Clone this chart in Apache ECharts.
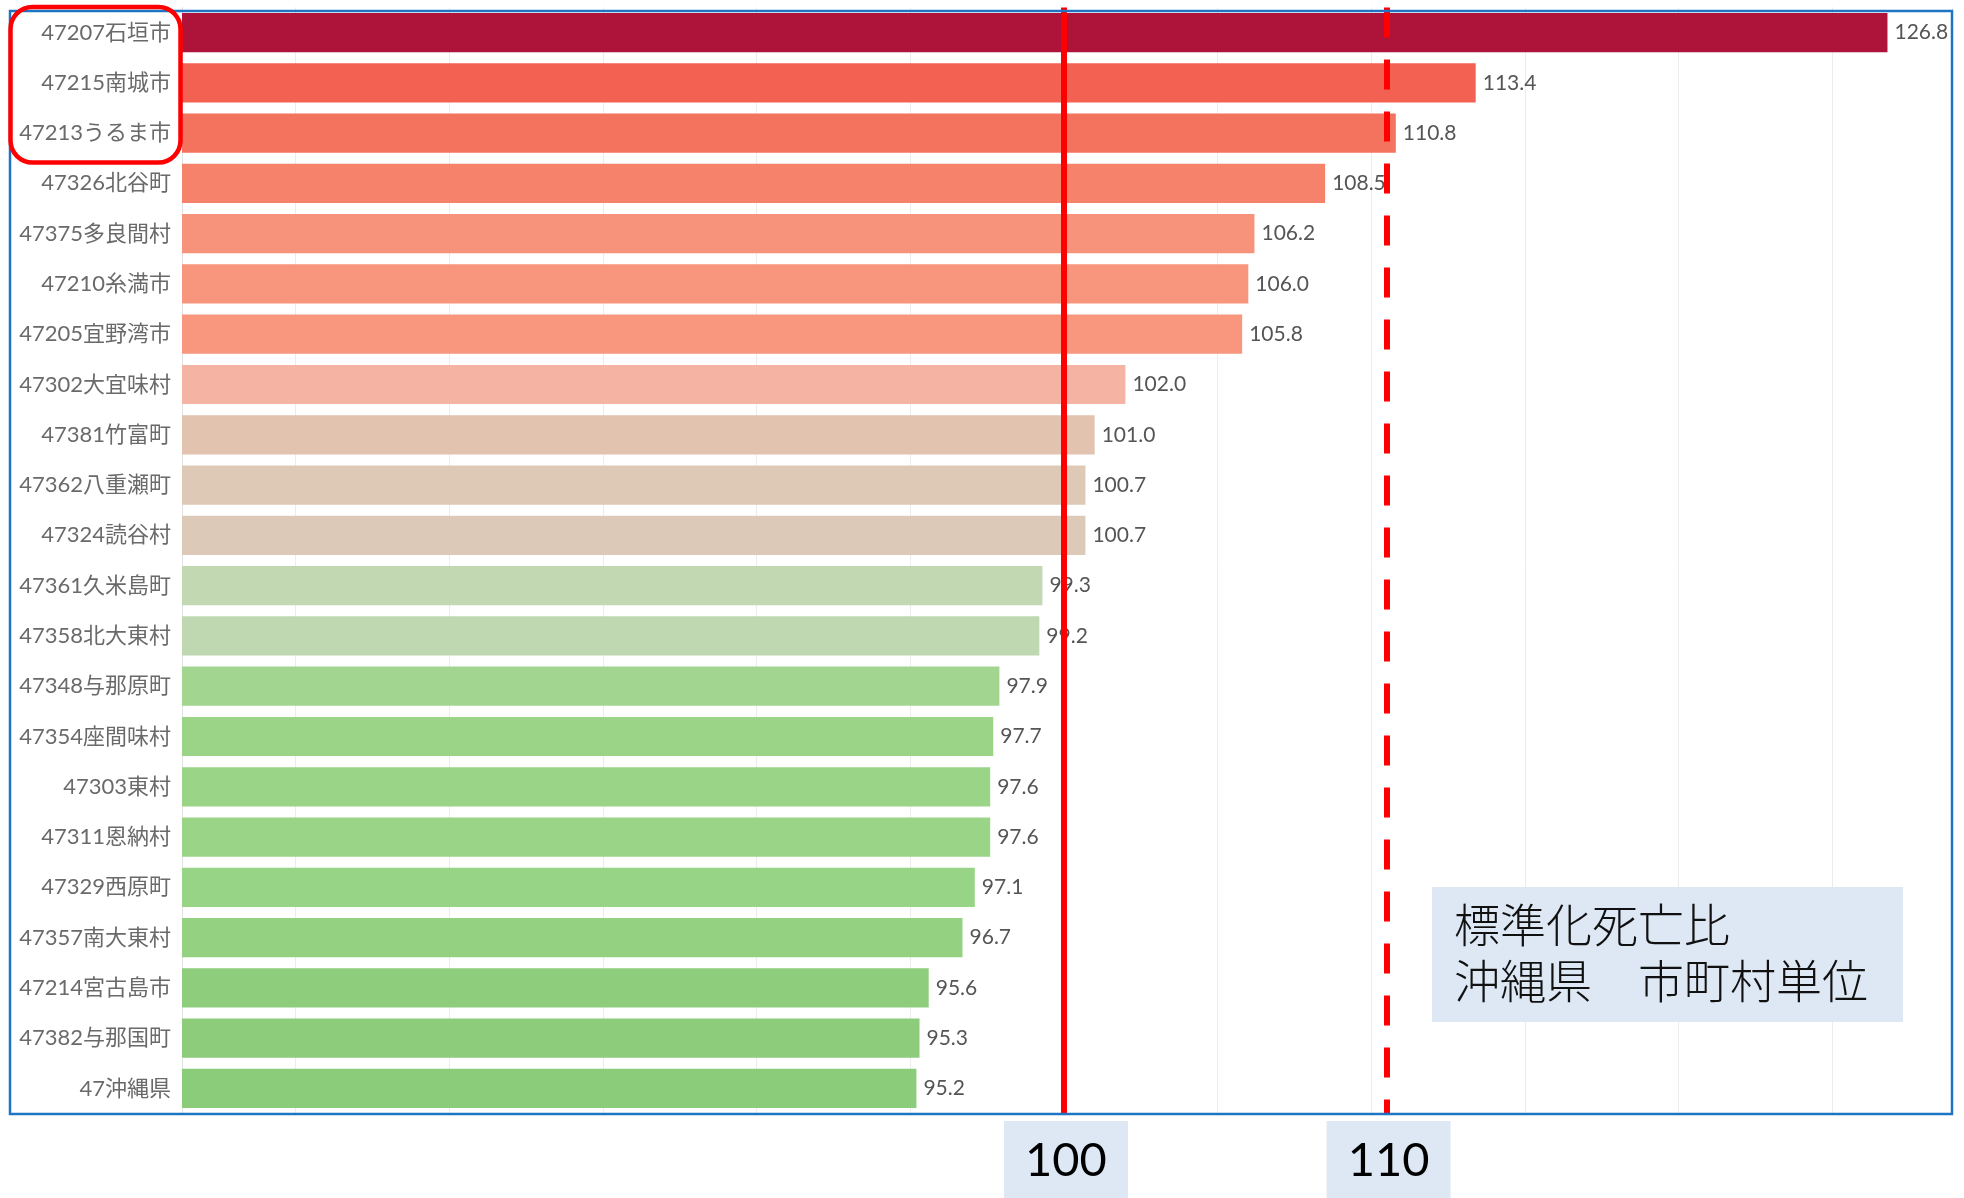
<!DOCTYPE html>
<html><head><meta charset="utf-8">
<script src="https://cdn.jsdelivr.net/npm/echarts@6/dist/echarts.min.js"></script>
<style>html,body{margin:0;padding:0;background:#fff}#c{width:1964px;height:1198px}</style>
</head><body><div id="c"></div>
<script>
const categories = ['47207石垣市','47215南城市','47213うるま市','47326北谷町','47375多良間村','47210糸満市','47205宜野湾市','47302大宜味村','47381竹富町','47362八重瀬町','47324読谷村','47361久米島町','47358北大東村','47348与那原町','47354座間味村','47303東村','47311恩納村','47329西原町','47357南大東村','47214宮古島市','47382与那国町','47沖縄県'];
const values = [126.8,113.4,110.8,108.5,106.2,106.0,105.8,102.0,101.0,100.7,100.7,99.3,99.2,97.9,97.7,97.6,97.6,97.1,96.7,95.6,95.3,95.2];
const barColors = ['#AE1339','#F26152','#F4735F','#F6826C','#F7937B','#F8957D','#F8967E','#F4B3A3','#E2C3B0','#DDC9B6','#DCC9B7','#C1D8B3','#C0D8B2','#A2D58F','#9BD487','#9AD486','#9AD486','#98D485','#94D281','#8DCD7C','#8CCC7B','#8BCC7A'];
const refLineValues = [100, 110.5];
const refLineLabels = ['100', '110'];
const noteLines = ['標準化死亡比', '沖縄県　市町村単位'];
const axisMin = 71.3, axisMax = 128.9;

const FONT = 'Lato, "Noto Sans CJK JP", sans-serif';
const CJK = '"Noto Sans CJK JP", "Noto Sans", sans-serif';
const chart = echarts.init(document.getElementById('c'));
chart.setOption({
  animation: false,
  backgroundColor: '#ffffff',
  grid: {left: 182, right: 12, top: 7.4, bottom: 84.4, containLabel: false},
  xAxis: {
    type: 'value', min: axisMin, max: axisMax, splitNumber: 11,
    axisLabel: {show: false}, axisTick: {show: false}, axisLine: {show: false},
    splitLine: {lineStyle: {color: '#ececec', width: 1}}
  },
  yAxis: {
    type: 'category', data: categories, inverse: true,
    axisTick: {show: false},
    axisLine: {lineStyle: {color: '#e2e2e2', width: 1}},
    axisLabel: {color: '#6a6a6a', fontSize: 22, margin: 11, fontFamily: FONT}
  },
  series: [{
    type: 'bar',
    data: values.map((v, i) => ({value: v, itemStyle: {color: barColors[i]}})),
    barCategoryGap: '22%',
    label: {show: true, position: 'right', distance: 7, color: '#555555', fontSize: 21, fontFamily: FONT,
      formatter: p => Number(p.value).toFixed(1)},
    markLine: {
      silent: true, symbol: 'none', z: 10,
      label: {show: false},
      data: [
        {xAxis: refLineValues[0], lineStyle: {color: '#ff0000', width: 6, type: 'solid'}},
        {xAxis: refLineValues[1], lineStyle: {color: '#ff0000', width: 6, type: [30, 22]}}
      ]
    }
  }]
});

const gridBottom = 1198 - 84.4;
const graphics = [];
// outer blue frame
graphics.push({type: 'rect', z: 100, shape: {x: 10, y: 11, width: 1942, height: 1103},
  style: {fill: null, stroke: '#1f74c4', lineWidth: 2.5}});
// red rounded highlight around top three labels
graphics.push({type: 'rect', z: 100, shape: {x: 10.5, y: 7, width: 170, height: 155.5, r: 22},
  style: {fill: null, stroke: '#ff0000', lineWidth: 4.5}});
// reference value boxes under the lines
refLineValues.forEach((v, i) => {
  const x = chart.convertToPixel({xAxisIndex: 0}, v);
  graphics.push({type: 'rect', z: 100, shape: {x: x - 60, y: gridBottom + 7.5, width: 124, height: 77},
    style: {fill: '#DDE8F4'}});
  graphics.push({type: 'text', z: 101, x: x + 2, y: gridBottom + 47,
    style: {text: refLineLabels[i], fill: '#000000', fontSize: 47, fontFamily: 'Lato, "Open Sans", sans-serif',
      align: 'center', verticalAlign: 'middle'}});
});
// note box
graphics.push({type: 'rect', z: 100, shape: {x: 1432, y: 887, width: 471, height: 135}, style: {fill: '#DDE8F4'}});
noteLines.forEach((t, i) => {
  graphics.push({type: 'text', z: 101, x: 1454, y: 925 + i * 56,
    style: {text: t, fill: '#111111', fontSize: 46, fontWeight: 300, fontFamily: CJK, align: 'left', verticalAlign: 'middle'}});
});
chart.setOption({graphic: graphics});
</script>
</body></html>
